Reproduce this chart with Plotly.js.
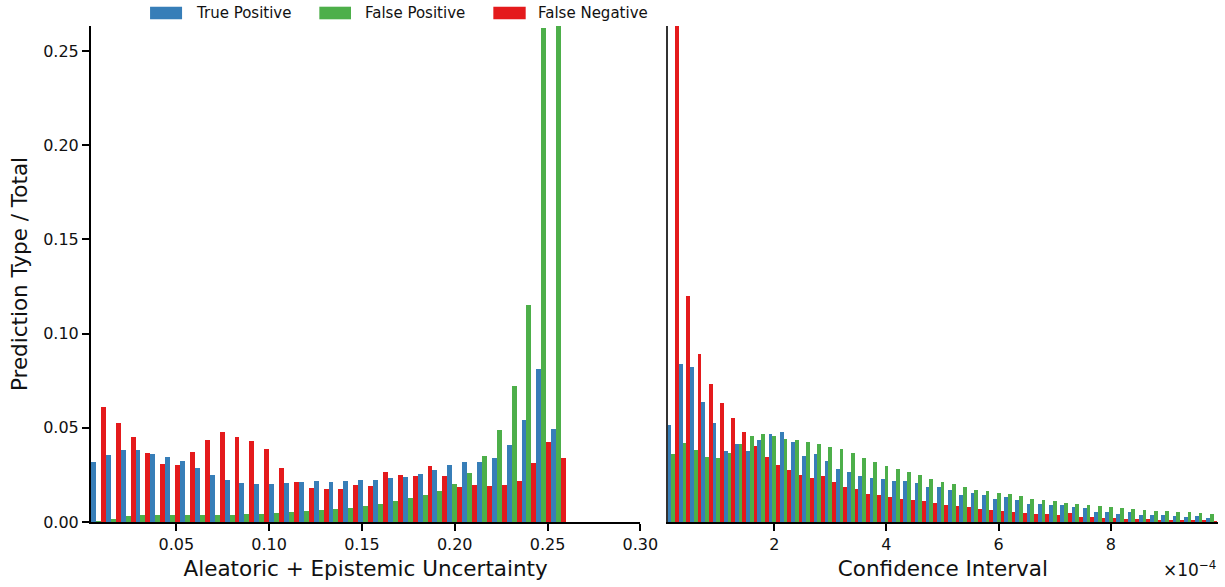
<!DOCTYPE html>
<html><head><meta charset="utf-8">
<script src="https://cdn.plot.ly/plotly-3.0.1.min.js"></script>
<style>html,body{margin:0;padding:0;background:#fff}</style>
</head><body><div id="chart" style="width:1225px;height:587px"></div>
<script>
const seriesNames = ["True Positive", "False Positive", "False Negative"];
const seriesColors = ["#377eb8", "#4daf4a", "#e41a1c"];

// Left panel: Aleatoric + Epistemic Uncertainty (bin centres)
const uncBins = [0.008,0.016,0.024,0.032,0.040,0.048,0.056,0.064,0.072,0.080,0.088,0.096,0.104,0.112,0.120,0.128,0.136,0.144,0.152,0.160,0.168,0.176,0.184,0.192,0.200,0.208,0.216,0.224,0.232,0.240,0.248,0.256];
const uncTP = [0.0316,0.0357,0.0382,0.0380,0.0362,0.0345,0.0325,0.0288,0.0251,0.0222,0.0208,0.0204,0.0204,0.0208,0.0213,0.0217,0.0215,0.0219,0.0222,0.0224,0.0233,0.0240,0.0256,0.0277,0.0302,0.0316,0.0320,0.0342,0.0409,0.0540,0.0811,0.0495];
const uncFP = [0.0005,0.0018,0.0030,0.0036,0.0036,0.0036,0.0036,0.0036,0.0036,0.0037,0.0041,0.0043,0.0050,0.0055,0.0059,0.0064,0.0069,0.0075,0.0085,0.0096,0.0112,0.0128,0.0144,0.0167,0.0204,0.0259,0.0348,0.0490,0.0721,0.1154,0.2620,0.2800];
const uncFN = [0.0608,0.0526,0.0451,0.0368,0.0307,0.0302,0.0373,0.0437,0.0478,0.0450,0.0432,0.0389,0.0288,0.0213,0.0181,0.0176,0.0176,0.0199,0.0190,0.0265,0.0249,0.0242,0.0297,0.0245,0.0188,0.0194,0.0190,0.0199,0.0216,0.0313,0.0425,0.0342];

// Right panel: Confidence Interval (bin centres, x 1e-4)
const ciBins = [0.2,0.4,0.6,0.8,1.0,1.2,1.4,1.6,1.8,2.0,2.2,2.4,2.6,2.8,3.0,3.2,3.4,3.6,3.8,4.0,4.2,4.4,4.6,4.8,5.0,5.2,5.4,5.6,5.8,6.0,6.2,6.4,6.6,6.8,7.0,7.2,7.4,7.6,7.8,8.0,8.2,8.4,8.6,8.8,9.0,9.2,9.4,9.6,9.8];
const ciTP = [0.0515,0.0838,0.0824,0.0635,0.0528,0.0379,0.0412,0.0376,0.0434,0.0468,0.0476,0.0426,0.0348,0.0362,0.0322,0.0284,0.0265,0.0245,0.0231,0.0227,0.0217,0.0220,0.0208,0.0187,0.0185,0.0172,0.0146,0.0153,0.0146,0.0124,0.0131,0.0117,0.0096,0.0097,0.0091,0.0092,0.0082,0.0073,0.0052,0.0052,0.0043,0.0052,0.0037,0.0037,0.0037,0.0032,0.0028,0.0034,0.0023];
const ciFP = [0.0361,0.0417,0.0384,0.0344,0.0338,0.0365,0.0412,0.0458,0.0468,0.0456,0.0441,0.0434,0.0423,0.0414,0.0400,0.0386,0.0367,0.0338,0.0320,0.0297,0.0283,0.0268,0.0251,0.0226,0.0213,0.0201,0.0187,0.0169,0.0163,0.0156,0.0147,0.0137,0.0124,0.0118,0.0110,0.0103,0.0094,0.0091,0.0085,0.0078,0.0073,0.0069,0.0064,0.0059,0.0057,0.0055,0.0052,0.0050,0.0044];
const ciFN = [0.2800,0.1199,0.0892,0.0734,0.0632,0.0552,0.0477,0.0405,0.0347,0.0303,0.0275,0.0251,0.0236,0.0245,0.0213,0.0187,0.0173,0.0151,0.0142,0.0133,0.0124,0.0117,0.0110,0.0101,0.0091,0.0084,0.0078,0.0069,0.0064,0.0057,0.0055,0.0050,0.0043,0.0041,0.0037,0.0046,0.0028,0.0027,0.0021,0.0021,0.0018,0.0014,0.0014,0.0012,0.0011,0.0009,0.0009,0.0009,0.0005];

const uncTicks = [0.05, 0.10, 0.15, 0.20, 0.25, 0.30];
const ciTicks = [2, 4, 6, 8];
const yTicks = [0.00, 0.05, 0.10, 0.15, 0.20, 0.25];

const FONT = "DejaVu Sans, Liberation Sans, sans-serif";
const uncSeries = [uncTP, uncFP, uncFN];
const ciSeries = [ciTP, ciFP, ciFN];

const traces = [];
seriesNames.forEach((name, i) => {
  traces.push({type: "bar", name: name, x: uncBins, y: uncSeries[i], xaxis: "x", yaxis: "y",
    marker: {color: seriesColors[i], line: {width: 0}}, showlegend: false, hoverinfo: "x+y+name"});
});
seriesNames.forEach((name, i) => {
  traces.push({type: "bar", name: name, x: ciBins, y: ciSeries[i], xaxis: "x2", yaxis: "y2",
    marker: {color: seriesColors[i], line: {width: 0}}, showlegend: false, hoverinfo: "x+y+name"});
});

// custom legend (wide patches like the reference)
const legX = [[0.0524, 0.0808, 0.0917], [0.2026, 0.2307, 0.2411], [0.3570, 0.3857, 0.3949]];
const shapes = [], annotations = [];
seriesNames.forEach((name, i) => {
  shapes.push({type: "rect", xref: "paper", yref: "paper", x0: legX[i][0], x1: legX[i][1], y0: 1.0135, y1: 1.0389,
    fillcolor: seriesColors[i], line: {width: 0}});
  annotations.push({xref: "paper", yref: "paper", x: legX[i][2], y: 1.0262, xanchor: "left", yanchor: "middle",
    text: name, showarrow: false, font: {family: FONT, size: 15, color: "#111"}});
});
annotations.push({xref: "paper", yref: "paper", x: 1.0, y: -0.094, xanchor: "right", yanchor: "middle",
  text: "×10<sup>−4</sup>", showarrow: false, font: {family: FONT, size: 17, color: "#111"}});

const axisCommon = {showgrid: false, zeroline: false, showline: true, linecolor: "#000", linewidth: 2,
  ticks: "outside", ticklen: 7, tickwidth: 2, tickcolor: "#000", tickfont: {family: FONT, size: 16, color: "#111"}};

const layout = {
  width: 1225, height: 587,
  margin: {l: 91, r: 7, t: 26, b: 65},
  paper_bgcolor: "#fff", plot_bgcolor: "#fff",
  barmode: "group", bargap: 0, bargroupgap: 0,
  font: {family: FONT, color: "#111"},
  xaxis: Object.assign({}, axisCommon, {domain: [0, 0.4874], range: [0.004, 0.30], anchor: "y",
    tickvals: uncTicks, tickformat: ".2f",
    title: {text: "Aleatoric + Epistemic Uncertainty", font: {family: FONT, size: 21.5, color: "#111"}, standoff: 8}}),
  yaxis: Object.assign({}, axisCommon, {domain: [0, 1], range: [0, 0.2633], anchor: "x",
    tickvals: yTicks, tickformat: ".2f",
    title: {text: "Prediction Type / Total", font: {family: FONT, size: 21.5, color: "#111"}, standoff: 10}}),
  xaxis2: Object.assign({}, axisCommon, {domain: [0.5117, 1], range: [0.1, 9.91], anchor: "y2",
    tickvals: ciTicks,
    title: {text: "Confidence Interval", font: {family: FONT, size: 21.5, color: "#111"}, standoff: 8}}),
  yaxis2: Object.assign({}, axisCommon, {domain: [0, 1], matches: "y", anchor: "x2",
    ticks: "", showticklabels: false, linecolor: "#333"}),
  shapes: shapes,
  annotations: annotations
};

Plotly.newPlot("chart", traces, layout, {displayModeBar: false, staticPlot: true});
</script></body></html>
